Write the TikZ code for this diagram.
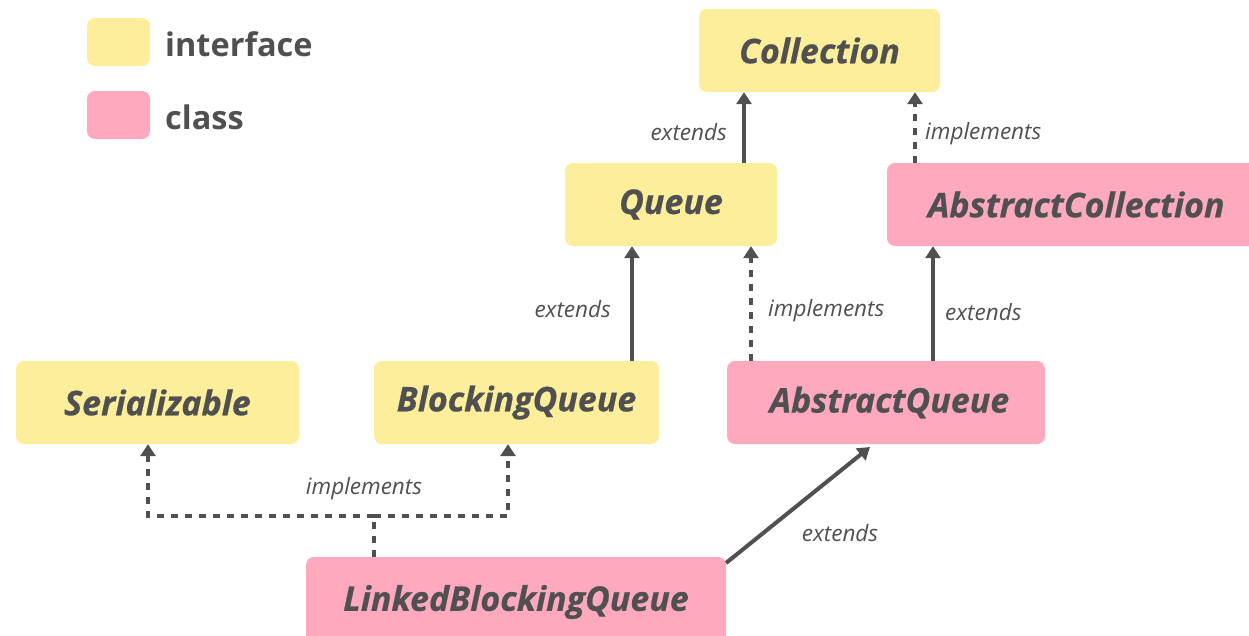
\documentclass[tikz,border=0pt]{standalone}
\usepackage{fontspec}
\setmainfont{Open Sans}
\newfontfamily\heavyfont{Open Sans}[UprightFeatures={FakeBold=0.6}, ItalicFeatures={FakeBold=0.6}, BoldFeatures={FakeBold=0.6}, BoldItalicFeatures={FakeBold=0.6}]
\usetikzlibrary{arrows.meta,calc}
\definecolor{ifacefill}{HTML}{FCEE9B}
\definecolor{classfill}{HTML}{FFA9BF}
\definecolor{ink}{HTML}{505050}
\tikzset{
  box/.style={rounded corners=8pt, draw=none, inner sep=0pt, text=ink,
    font=\fontsize{34}{40}\selectfont\heavyfont\bfseries\itshape},
  iface/.style={box, fill=ifacefill},
  cls/.style={box, fill=classfill},
  legtext/.style={text=ink, font=\fontsize{32.5}{38}\selectfont\bfseries, anchor=west, inner sep=0pt},
  rel/.style={text=ink, font=\fontsize{22.5}{26}\selectfont\itshape, inner sep=0pt},
  ext/.style={draw=ink, line width=4pt, -{Triangle[length=12pt,width=15pt]}},
  impl/.style={draw=ink, line width=4pt, dash pattern=on 7pt off 7pt, -{Triangle[length=12pt,width=15pt]}},
  implnt/.style={draw=ink, line width=4pt, dash pattern=on 7pt off 7pt},
}
\begin{document}
\begin{tikzpicture}[x=1pt,y=-1pt]
\useasboundingbox[fill=white] (0,0) rectangle (1249,635);
% legend
\node[iface, minimum width=63pt, minimum height=48pt] (legi) at (118.5,42) {};
\node[cls, minimum width=63pt, minimum height=48pt] (legc) at (118.5,115) {};
\node[legtext] (legit) at (165,44) {interface};
\node[legtext] (legct) at (165,117) {class};
% types
\node[iface, minimum width=241pt, minimum height=83pt] (coll) at (819.5,50.5) {Collection};
\node[iface, minimum width=212pt, minimum height=83pt] (queue) at (671,204.5) {Queue};
\node[cls, minimum width=370pt, minimum height=83pt, text width=362pt, align=left] (acoll) at (1072,204.5) {\hspace*{37pt}AbstractCollection};
\node[iface, minimum width=283pt, minimum height=83pt] (ser) at (157.5,402.5) {Serializable};
\node[iface, minimum width=285pt, minimum height=83pt] (bq) at (516.5,402.5) {BlockingQueue};
\node[cls, minimum width=318pt, minimum height=83pt] (aq) at (886,402.5) {\hspace*{7pt}AbstractQueue};
\node[cls, minimum width=420pt, minimum height=90pt] (lbq) at (516,602) {LinkedBlockingQueue};
% relations
\coordinate (qx) at (744,0);
\draw[ext] (queue.north -| qx) -- (coll.south -| qx);
\node[rel, anchor=east] (l1) at (727,132) {extends};
\coordinate (acx) at (915,0);
\draw[impl] (acoll.north -| acx) -- (coll.south -| acx);
\node[rel, anchor=west] (l2) at (925,134) {implements};
\coordinate (bqx) at (632,0);
\draw[ext] (bq.north -| bqx) -- (queue.south -| bqx);
\node[rel, anchor=east] (l3) at (611,309) {extends};
\coordinate (aqx) at (751,0);
\draw[impl] (aq.north -| aqx) -- (queue.south -| aqx);
\node[rel, anchor=west] (l4) at (768,311) {implements};
\coordinate (aqx2) at (933,0);
\draw[ext] (aq.north -| aqx2) -- (acoll.south -| aqx2);
\node[rel, anchor=west] (l5) at (945,312) {extends};
\coordinate (lbqne) at (726,563);
\coordinate (aqtip) at (870,447);
\draw[ext] (lbqne) -- (aqtip);
\node[rel] (l6) at (840,533) {extends};
\coordinate (j) at (374,516);
\coordinate (serx) at (148,0);
\coordinate (bqx2) at (508,0);
\draw[implnt] (j |- lbq.north) -- (j);
\draw[impl] (j) -| (serx |- ser.south);
\draw[impl] (j) -| (bqx2 |- bq.south);
\node[rel] (l7) at (364,489) {implements};
\end{tikzpicture}
\end{document}
